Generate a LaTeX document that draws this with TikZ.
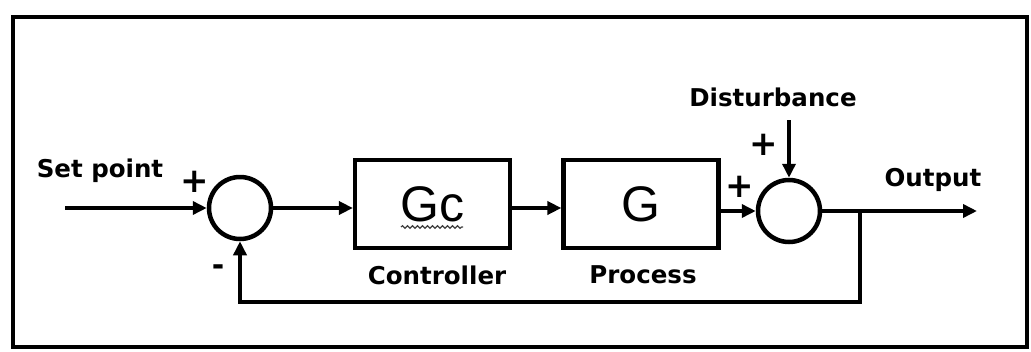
\documentclass[tikz,border=0pt]{standalone}
\usepackage{fontspec}
\setmainfont{DejaVu Sans}
\newfontfamily\gfont{Liberation Sans}
\usetikzlibrary{arrows.meta,decorations.pathmorphing}
\tikzset{
  lbl/.style={font=\fontsize{24.5}{30}\selectfont\bfseries, inner sep=0pt},
  sgn/.style={font=\fontsize{34}{40}\selectfont\bfseries, inner sep=0pt},
  msgn/.style={font=\fontsize{30}{36}\selectfont\bfseries, inner sep=0pt},
  blockbox/.style={draw, line width=4.2pt, minimum width=155pt, minimum height=88pt, inner sep=0pt, font=\gfont\fontsize{50}{56}\selectfont},
  sumcirc/.style={draw, circle, line width=4.5pt, minimum size=62pt, inner sep=0pt},
  arr/.style={line width=4pt, -{Triangle[length=14pt,width=13pt]}},
  wire/.style={line width=4pt}
}
\begin{document}
\begin{tikzpicture}[x=1pt,y=-1pt]
\useasboundingbox (0,0) rectangle (1031,351);
\draw[line width=4.5pt] (13,17) rectangle (1027,347);
% blocks
\node[sumcirc] (sum1) at (240,208) {};
\node[blockbox] (gc) at (432.5,204) {Gc};
\node[blockbox] (g) at (641,204) {G};
\node[sumcirc] (sum2) at (789,211) {};
\coordinate (sp) at (65,208);
\coordinate (out) at (977,211);
\coordinate (br) at (860,211);
\coordinate (fb) at (860,302);
\coordinate (dist) at (789,120);
% connectors
\draw[arr] (sp) -- (sum1.west);
\draw[arr] (sum1.east) -- (sum1.east -| gc.west);
\draw[arr] (gc.east |- 0,208) -- (g.west |- 0,208);
\draw[arr] (g.east |- sum2.west) -- (sum2.west);
\draw[arr] (sum2.east) -- (out);
\draw[arr] (dist) -- (sum2.north);
\draw[arr] (br) -- (fb) -| (sum1.south);
% wavy underline
\draw[gray!50!black, line width=1.2pt, decorate, decoration={snake, amplitude=1.3pt, segment length=5pt}] (401,227) -- (463,227);
% labels
\node[lbl] (tsp) at (100,171) {Set point};
\node[lbl] (tc) at (437,275) {Controller};
\node[lbl] (tp) at (643,275) {Process};
\node[lbl] (td) at (773,97) {Disturbance};
\node[lbl] (to) at (933,180) {Output};
\node[sgn] (p1) at (195,182) {+};
\node[sgn] (p2) at (740,187) {+};
\node[sgn] (p3) at (764,145) {+};
\node[msgn] (m1) at (218,270) {-};
\end{tikzpicture}
\end{document}
